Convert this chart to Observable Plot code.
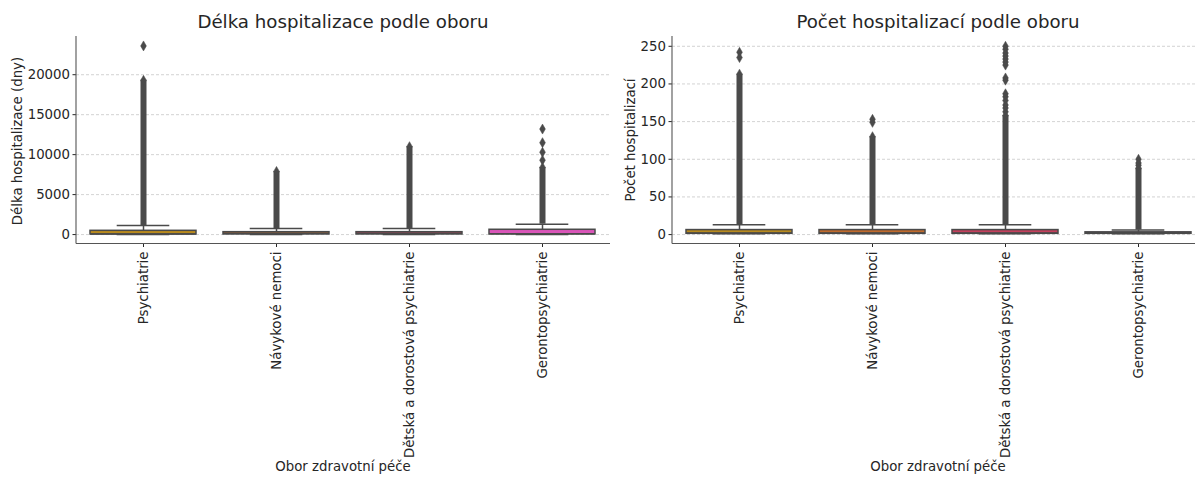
<!DOCTYPE html>
<html><head><meta charset="utf-8">
<script src="https://cdn.jsdelivr.net/npm/d3@7"></script>
<script src="https://cdn.jsdelivr.net/npm/@observablehq/plot@0.6"></script>
<style>
body{margin:0;background:#fff;}
#wrap{position:relative;width:1195px;height:478px;overflow:hidden;background:#fff;font-family:"DejaVu Sans",sans-serif;color:#262626;}
.abs{position:absolute;white-space:nowrap;line-height:1;}
.title{font-size:18.2px;transform:translate(-50%,-50%);}
.xlabel{font-size:13.3px;transform:translate(-50%,-50%);}
.ylabel{font-size:13.3px;transform:translate(-50%,-50%) rotate(-90deg);}
.panel{position:absolute;top:0;width:640px;height:478px;}
.panel svg{max-width:none !important;overflow:visible;}
</style></head>
<body><div id="wrap"></div>
<script>
// ---------- data ----------
const categories = ["Psychiatrie", "Návykové nemoci", "Dětská a dorostová psychiatrie", "Gerontopsychiatrie"];
const boxColors = ["#b88a1e", "#bf6a2c", "#c4405c", "#d955b8"];

// Délka hospitalizace (dny)
const lenQ1 = [15, 10, 10, 20];
const lenMedian = [60, 150, 150, 90];
const lenQ3 = [470, 300, 300, 600];
const lenWhiskerLo = [1, 1, 1, 1];
const lenWhiskerHi = [1120, 750, 760, 1300];
const lenDenseTop = [19300, 7900, 11000, 8400];
const lenSparse = [[23600], [], [], [13200, 11500, 10300, 9300]];
const lenTicks = [0, 5000, 10000, 15000, 20000];
const lenDomain = [-1180, 24780];

// Počet hospitalizací
const cntQ1 = [1, 1, 1, 1];
const cntMedian = [2, 2, 2, 2];
const cntQ3 = [6, 6, 6, 3];
const cntWhiskerLo = [1, 1, 1, 1];
const cntWhiskerHi = [13, 13, 13, 6];
const cntDenseTop = [213, 130, 158, 88];
const cntSparse = [[242, 235], [153, 149], [250, 246, 241, 237, 233, 229, 225, 208, 205, 187, 183, 178, 172, 168, 163], [100, 95, 92]];
const cntTicks = [0, 50, 100, 150, 200, 250];
const cntDomain = [-12.5, 263];

const titles = ["Délka hospitalizace podle oboru", "Počet hospitalizací podle oboru"];
const yLabels = ["Délka hospitalizace (dny)", "Počet hospitalizací"];
const xLabel = "Obor zdravotní péče";

// ---------- drawing ----------
const EDGE = "#4a4a4a";
const thinDiamond = {
  draw(ctx, size) {
    const r = Math.sqrt(size / Math.PI);
    ctx.moveTo(0, -r * 1.25);
    ctx.lineTo(r * 0.72, 0);
    ctx.lineTo(0, r * 1.25);
    ctx.lineTo(-r * 0.72, 0);
    ctx.closePath();
  }
};

function spines() {
  return (index, scales, values, dims) => {
    const {width, height, marginLeft, marginRight, marginTop, marginBottom} = dims;
    const g = d3.create("svg:g");
    g.append("line").attr("x1", marginLeft).attr("x2", marginLeft)
      .attr("y1", marginTop).attr("y2", height - marginBottom)
      .attr("stroke", "#555").attr("stroke-width", 1.1);
    g.append("line").attr("x1", marginLeft).attr("x2", width - marginRight)
      .attr("y1", height - marginBottom).attr("y2", height - marginBottom)
      .attr("stroke", "#555").attr("stroke-width", 1.1);
    return g.node();
  };
}

function panel(q1, med, q3, wlo, whi, denseTop, sparse, ticks, domain) {
  const stats = categories.map((c, i) => ({
    cat: c, color: boxColors[i], q1: q1[i], med: med[i], q3: q3[i],
    wlo: wlo[i], whi: whi[i], top: denseTop[i]
  }));
  const outliers = [];
  categories.forEach((c, i) => {
    sparse[i].forEach(v => outliers.push({cat: c, v}));
    outliers.push({cat: c, v: denseTop[i]});
  });
  return Plot.plot({
    width: 640, height: 478,
    marginLeft: 76, marginRight: 30, marginTop: 36, marginBottom: 234.5,
    style: {fontFamily: "DejaVu Sans, sans-serif", fontSize: "13.3px", color: "#262626", background: "transparent", maxWidth: "none", overflow: "visible"},
    x: {type: "band", domain: categories, paddingInner: 0.2, paddingOuter: 0.1, align: 0.5},
    y: {domain, ticks},
    marks: [
      Plot.gridY(ticks, {stroke: "#c8c8c8", strokeOpacity: 1, strokeWidth: 0.8, strokeDasharray: "3,2"}),
      Plot.axisY({ticks, tickSize: 3.5, tickPadding: 3, fontSize: 13.3, label: null, tickFormat: d => String(d)}),
      Plot.axisX({tickSize: 3.5, tickPadding: 4, tickRotate: -90, fontSize: 13.3, label: null}),
      // whiskers
      Plot.ruleX(stats, {x: "cat", y1: "q3", y2: "whi", stroke: EDGE, strokeWidth: 1.5}),
      Plot.ruleX(stats, {x: "cat", y1: "q1", y2: "wlo", stroke: EDGE, strokeWidth: 1.5}),
      Plot.tickY(stats, {x: "cat", y: "whi", stroke: EDGE, strokeWidth: 1.5, insetLeft: 26.7, insetRight: 26.7}),
      Plot.tickY(stats, {x: "cat", y: "wlo", stroke: EDGE, strokeWidth: 1.5, insetLeft: 26.7, insetRight: 26.7}),
      // dense outlier columns
      Plot.ruleX(stats, {x: "cat", y1: "whi", y2: "top", stroke: EDGE, strokeWidth: 6}),
      Plot.dot(outliers, {x: "cat", y: "v", r: 4, symbol: thinDiamond, fill: EDGE, stroke: EDGE, strokeWidth: 0.5}),
      // boxes
      Plot.barY(stats, {x: "cat", y1: "q1", y2: "q3", fill: "color", stroke: EDGE, strokeWidth: 1.5}),
      Plot.tickY(stats, {x: "cat", y: "med", stroke: EDGE, strokeWidth: 1.5}),
      spines()
    ]
  });
}

const wrap = document.getElementById("wrap");
const panels = [
  panel(lenQ1, lenMedian, lenQ3, lenWhiskerLo, lenWhiskerHi, lenDenseTop, lenSparse, lenTicks, lenDomain),
  panel(cntQ1, cntMedian, cntQ3, cntWhiskerLo, cntWhiskerHi, cntDenseTop, cntSparse, cntTicks, cntDomain)
];
const offsets = [0, 595.7];
panels.forEach((svg, i) => {
  const d = document.createElement("div");
  d.className = "panel";
  d.style.left = offsets[i] + "px";
  svg.style.maxWidth = "none";
  d.appendChild(svg);
  wrap.appendChild(d);
});

function addText(cls, text, x, y) {
  const d = document.createElement("div");
  d.className = "abs " + cls;
  d.style.left = x + "px";
  d.style.top = y + "px";
  d.textContent = text;
  wrap.appendChild(d);
}
addText("title", titles[0], 343, 22);
addText("title", titles[1], 938, 22);
addText("ylabel", yLabels[0], 18, 141);
addText("ylabel", yLabels[1], 631, 140);
addText("xlabel", xLabel, 343, 467);
addText("xlabel", xLabel, 938, 467);
</script>
</body></html>
